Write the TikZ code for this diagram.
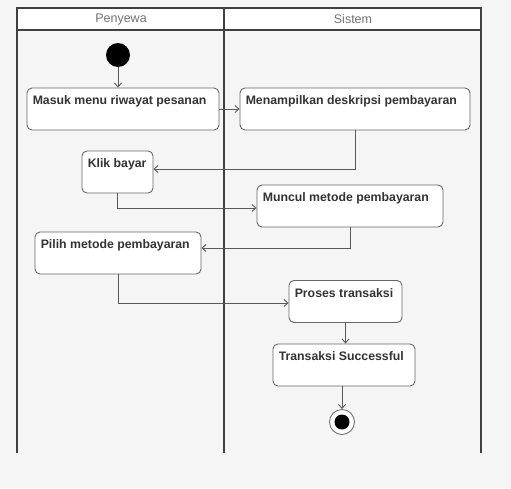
\documentclass[tikz,border=0pt]{standalone}
\usepackage{fontspec}
\setmainfont{Liberation Sans}
\usetikzlibrary{arrows.meta}
\begin{document}
\begin{tikzpicture}[x=1pt,y=-1pt,
  lane/.style={draw=black!75, line width=1.6pt},
  actbox/.style={draw=black!60, line width=0.9pt, fill=white, rounded corners=5pt,
    inner sep=0pt, minimum height=42pt},
  boxtext/.style={font=\bfseries\fontsize{12.3}{14}\selectfont, text=black!80, inner sep=0pt,
    anchor=north west, xshift=6pt, yshift=-8pt},
  flow/.style={draw=black!65, line width=0.9pt, -{Straight Barb[length=4pt,width=7pt]}},
  lanetitle/.style={font=\fontsize{12.5}{14}\selectfont, text=black!55, inner sep=0pt}
]
\useasboundingbox (0,0) rectangle (511,488);
\fill[black!4] (0,0) rectangle (511,488);

% swimlane frame
\fill[white] (17,8) rectangle (481,30);
\draw[lane] (17,453) -- (17,8) -- (481,8) -- (481,453);
\draw[lane] (17,30) -- (481,30);
\draw[lane] (224,8) -- (224,453);
\node[lanetitle] (lane1) at (121,19.5) {Penyewa};
\node[lanetitle] (lane2) at (353,19.5) {Sistem};

% start and end states
\node[circle, fill=black, minimum size=24pt, inner sep=0pt] (start) at (118,55) {};
\node[circle, draw=black!55, line width=0.9pt, fill=white, minimum size=25pt, inner sep=0pt] (end) at (342,422) {};
\node[circle, fill=black, minimum size=15pt, inner sep=0pt] (endcore) at (end.center) {};

% actions
\node[actbox, minimum width=192pt,
  label={[boxtext]north west:Masuk menu riwayat pesanan}] (masuk) at (123,109) {};
\node[actbox, minimum width=230pt,
  label={[boxtext]north west:Menampilkan deskripsi pembayaran}] (tampil) at (355,109) {};
\node[actbox, minimum width=71pt,
  label={[boxtext]north west:Klik bayar}] (klik) at (117.5,172) {};
\node[actbox, minimum width=186pt,
  label={[boxtext]north west:Muncul metode pembayaran}] (muncul) at (350,206) {};
\node[actbox, minimum width=166pt,
  label={[boxtext]north west:Pilih metode pembayaran}] (pilih) at (118,253) {};
\node[actbox, minimum width=113pt,
  label={[boxtext]north west:Proses transaksi}] (proses) at (345.5,301.5) {};
\node[actbox, minimum width=142pt,
  label={[boxtext]north west:Transaksi Successful}] (sukses) at (344,365) {};

% control flow
\draw[flow] (start) -- (start |- masuk.north);
\draw[flow] (masuk.east) -- (tampil.west);
\draw[flow] (tampil.south) |- ([yshift=3pt]klik.east);
\draw[flow] (klik.south) |- ([yshift=-2pt]muncul.west);
\draw[flow] (muncul.south) |- ([yshift=5pt]pilih.east);
\draw[flow] (pilih.south) |- ([yshift=-1.5pt]proses.west);
\draw[flow] (proses.south) -- (proses.south |- sukses.north);
\draw[flow] (sukses.south -| end) -- (end.north);
\end{tikzpicture}
\end{document}
